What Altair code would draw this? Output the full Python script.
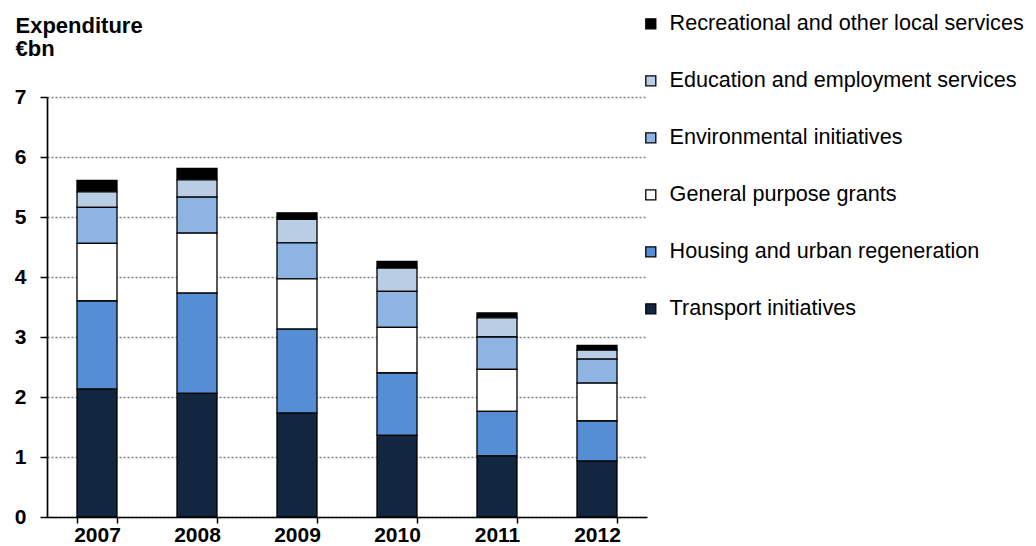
import altair as alt
import pandas as pd

years = ["2007", "2008", "2009", "2010", "2011", "2012"]
series = [
    "Recreational and other local services",
    "Education and employment services",
    "Environmental initiatives",
    "General purpose grants",
    "Housing and urban regeneration",
    "Transport initiatives",
]
colors = ["#000000", "#B9CDE5", "#8EB4E3", "#FFFFFF", "#558ED5", "#12263F"]

transport = [2.13, 2.06, 1.73, 1.36, 1.02, 0.93]
housing = [1.47, 1.67, 1.40, 1.04, 0.74, 0.67]
general = [0.96, 1.00, 0.84, 0.76, 0.70, 0.63]
environmental = [0.60, 0.60, 0.60, 0.60, 0.54, 0.40]
education = [0.26, 0.29, 0.39, 0.39, 0.32, 0.15]
recreational = [0.19, 0.19, 0.11, 0.11, 0.08, 0.08]

values = [recreational, education, environmental, general, housing, transport]

rows = []
for s_idx, (name, vals) in enumerate(zip(series, values)):
    for y, v in zip(years, vals):
        rows.append({"year": y, "series": name, "value": v, "stack": 5 - s_idx})
df = pd.DataFrame(rows)

FONT = "Liberation Sans"

chart = (
    alt.Chart(df)
    .mark_bar(stroke="#000000", strokeWidth=1.3)
    .encode(
        x=alt.X(
            "year:N",
            scale=alt.Scale(paddingInner=0.6, paddingOuter=0.3),
            axis=alt.Axis(
                title=None,
                labelAngle=0,
                labelFontWeight="bold",
                labelFontSize=21,
                labelFont=FONT,
                labelColor="#000000",
                labelPadding=1,
                tickBand="extent",
                tickColor="#000000",
                tickSize=6,
                tickWidth=1.5,
                domainColor="#000000",
                domainWidth=1.7,
                grid=False,
            ),
        ),
        y=alt.Y(
            "value:Q",
            stack="zero",
            scale=alt.Scale(domain=[0, 7], nice=False),
            axis=alt.Axis(
                title=["Expenditure", "€bn"],
                titleAngle=0,
                titleAlign="left",
                titleBaseline="alphabetic",
                titleX=-32,
                titleY=-65,
                titleFontSize=22,
                titleFont=FONT,
                titleFontWeight="bold",
                titleColor="#000000",
                titleLineHeight=23,
                values=[0, 1, 2, 3, 4, 5, 6, 7],
                format="d",
                labelFontWeight="bold",
                labelFontSize=21,
                labelFont=FONT,
                labelColor="#000000",
                labelPadding=14,
                tickColor="#000000",
                tickSize=7,
                tickWidth=1.5,
                domainColor="#000000",
                domainWidth=1.7,
                grid=True,
                gridColor="#808080",
                gridDash=[2, 2],
                gridWidth=1.5,
            ),
        ),
        color=alt.Color(
            "series:N",
            scale=alt.Scale(domain=series, range=colors),
            legend=alt.Legend(
                title=None,
                orient="none",
                legendX=593,
                legendY=-84,
                padding=0,
                symbolType="square",
                symbolSize=100,
                symbolStrokeColor="#000000",
                symbolStrokeWidth=1.3,
                labelFontSize=21.6,
                labelFont=FONT,
                labelColor="#000000",
                labelOffset=8,
                rowPadding=34,
                labelLimit=420,
            ),
        ),
        order=alt.Order("stack:Q", sort="ascending"),
    )
    .properties(
        width=600,
        height=420,
        autosize=alt.AutoSizeParams(type="none"),
        padding={"left": 39, "top": 89, "right": 381, "bottom": 30},
    )
    .configure_view(stroke=None)
)

chart.save("out.html", embed_options={"renderer": "svg", "actions": False})
